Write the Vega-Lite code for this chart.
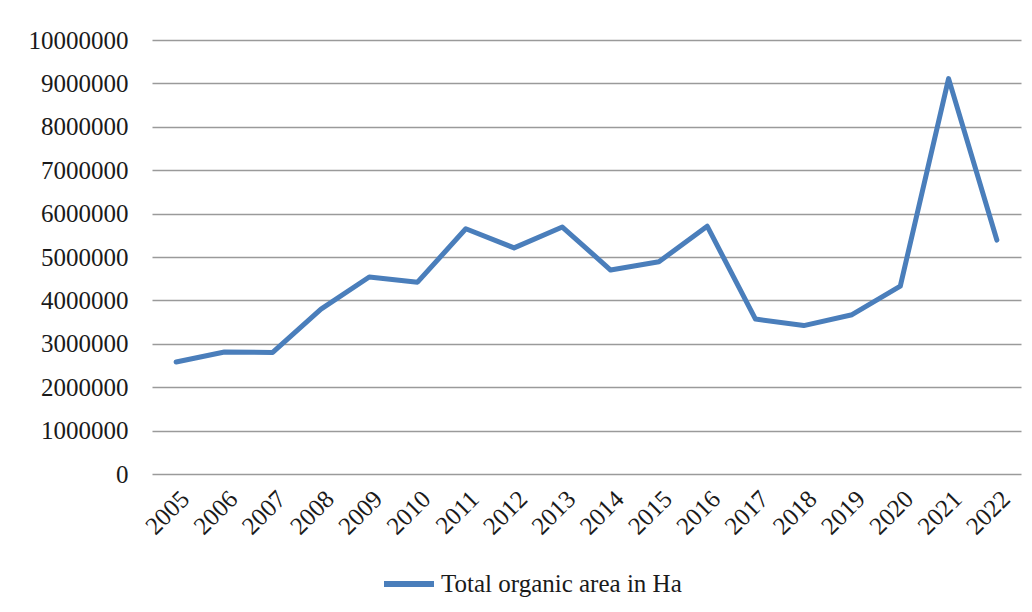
{
  "$schema": "https://vega.github.io/schema/vega-lite/v6.json",
  "width": 869,
  "height": 434,
  "autosize": "none",
  "padding": {"left": 152, "top": 40, "right": 11, "bottom": 138},
  "background": "white",
  "data": {"values": [
    {"year": "2005", "area": 2580000, "series": "Total organic area in Ha"},
    {"year": "2006", "area": 2810000, "series": "Total organic area in Ha"},
    {"year": "2007", "area": 2800000, "series": "Total organic area in Ha"},
    {"year": "2008", "area": 3800000, "series": "Total organic area in Ha"},
    {"year": "2009", "area": 4540000, "series": "Total organic area in Ha"},
    {"year": "2010", "area": 4420000, "series": "Total organic area in Ha"},
    {"year": "2011", "area": 5650000, "series": "Total organic area in Ha"},
    {"year": "2012", "area": 5210000, "series": "Total organic area in Ha"},
    {"year": "2013", "area": 5690000, "series": "Total organic area in Ha"},
    {"year": "2014", "area": 4700000, "series": "Total organic area in Ha"},
    {"year": "2015", "area": 4890000, "series": "Total organic area in Ha"},
    {"year": "2016", "area": 5710000, "series": "Total organic area in Ha"},
    {"year": "2017", "area": 3570000, "series": "Total organic area in Ha"},
    {"year": "2018", "area": 3420000, "series": "Total organic area in Ha"},
    {"year": "2019", "area": 3670000, "series": "Total organic area in Ha"},
    {"year": "2020", "area": 4330000, "series": "Total organic area in Ha"},
    {"year": "2021", "area": 9110000, "series": "Total organic area in Ha"},
    {"year": "2022", "area": 5390000, "series": "Total organic area in Ha"}
  ]},
  "mark": {"type": "line", "strokeWidth": 5, "strokeCap": "round", "strokeJoin": "round"},
  "encoding": {
    "x": {
      "field": "year", "type": "ordinal",
      "scale": {"padding": 0.5},
      "axis": {
        "title": null, "labelAngle": -45, "domain": false, "ticks": false,
        "labelFont": "Liberation Serif", "labelFontSize": 25, "labelColor": "#1a1a1a",
        "labelPadding": 12, "grid": false
      }
    },
    "y": {
      "field": "area", "type": "quantitative",
      "scale": {"domain": [0, 10000000], "nice": false},
      "axis": {
        "title": null, "values": [0, 1000000, 2000000, 3000000, 4000000, 5000000, 6000000, 7000000, 8000000, 9000000, 10000000],
        "format": "d", "domain": false, "ticks": false,
        "labelFont": "Liberation Serif", "labelFontSize": 25, "labelColor": "#1a1a1a",
        "labelPadding": 24, "gridColor": "#9a9a9a", "gridWidth": 1.5
      }
    },
    "color": {
      "field": "series", "type": "nominal",
      "scale": {"range": ["#4a7ebb"]},
      "legend": {
        "title": null, "orient": "none", "legendX": 229, "legendY": 516, "direction": "horizontal",
        "symbolType": "stroke", "symbolSize": 2500, "symbolStrokeWidth": 6,
        "labelFont": "Liberation Serif", "labelFontSize": 25, "labelColor": "#1a1a1a",
        "labelLimit": 500, "labelOffset": 4
      }
    }
  },
  "config": {"view": {"stroke": null}}
}
